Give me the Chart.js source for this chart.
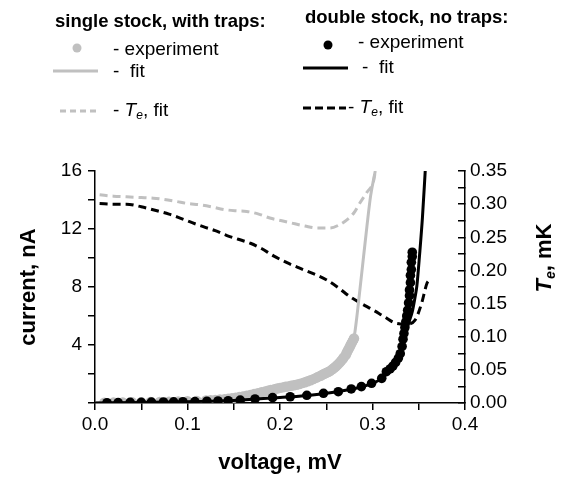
<!DOCTYPE html>
<html>
<head>
<meta charset="utf-8">
<script src="https://cdn.jsdelivr.net/npm/chart.js@4.4.0/dist/chart.umd.min.js"></script>
<style>
  body { margin: 0; background: #fff; }
  canvas { display: block; }
</style>
</head>
<body>
<canvas id="ivChart" width="567" height="478"></canvas>
<script>
// single stock, with traps - measured points
const grayExpV = [0.010, 0.020, 0.030, 0.040, 0.050, 0.060, 0.070, 0.080, 0.090, 0.100,
  0.110, 0.120, 0.125, 0.130, 0.135, 0.140, 0.144, 0.148, 0.152, 0.156, 0.160, 0.164,
  0.168, 0.172, 0.176, 0.180, 0.184, 0.187, 0.190, 0.194, 0.197, 0.200, 0.203, 0.206,
  0.209, 0.212, 0.215, 0.218, 0.221, 0.224, 0.227, 0.230, 0.233, 0.236, 0.239, 0.241,
  0.244, 0.246, 0.248, 0.250, 0.252, 0.254, 0.256, 0.258, 0.260, 0.262, 0.264, 0.266,
  0.268, 0.269, 0.271, 0.272, 0.273, 0.274, 0.275, 0.276, 0.277, 0.278, 0.279, 0.280];
const grayExpI = [0.02, 0.03, 0.04, 0.05, 0.06, 0.07, 0.08, 0.09, 0.10, 0.12,
  0.14, 0.17, 0.19, 0.21, 0.24, 0.27, 0.30, 0.33, 0.37, 0.41, 0.45, 0.50,
  0.56, 0.62, 0.68, 0.74, 0.80, 0.85, 0.90, 0.95, 1.00, 1.04, 1.08, 1.12,
  1.15, 1.19, 1.22, 1.26, 1.31, 1.37, 1.43, 1.50, 1.57, 1.65, 1.73, 1.80,
  1.88, 1.96, 2.02, 2.08, 2.14, 2.20, 2.30, 2.40, 2.50, 2.62, 2.75, 2.90,
  3.05, 3.15, 3.30, 3.45, 3.58, 3.70, 3.82, 3.95, 4.08, 4.20, 4.32, 4.45];

// single stock fit
const grayFitV = [0.000, 0.050, 0.100, 0.130, 0.156, 0.180, 0.200, 0.218, 0.236, 0.250,
  0.262, 0.270, 0.276, 0.280, 0.283, 0.286, 0.290, 0.294, 0.298, 0.303];
const grayFitI = [0.00, 0.05, 0.12, 0.21, 0.41, 0.74, 1.04, 1.26, 1.65, 2.08,
  2.62, 3.25, 3.95, 4.50, 5.90, 7.60, 9.90, 12.20, 14.30, 16.00];

// single stock Te fit (right axis)
const grayTeV = [0.005, 0.020, 0.034, 0.050, 0.063, 0.075, 0.088, 0.100, 0.114, 0.126,
  0.139, 0.152, 0.164, 0.177, 0.189, 0.202, 0.214, 0.227, 0.240, 0.254, 0.263, 0.272,
  0.280, 0.286, 0.294, 0.301, 0.303];
const grayTe = [0.314, 0.312, 0.311, 0.310, 0.309, 0.307, 0.304, 0.301, 0.299, 0.296,
  0.292, 0.290, 0.289, 0.285, 0.279, 0.275, 0.271, 0.267, 0.264, 0.264, 0.268, 0.276,
  0.287, 0.301, 0.318, 0.334, 0.349];

// double stock, no traps - measured points
const blackExpV = [0.013, 0.025, 0.038, 0.050, 0.061, 0.074, 0.085, 0.095, 0.108, 0.121,
  0.133, 0.144, 0.157, 0.173, 0.192, 0.211, 0.229, 0.247, 0.263, 0.277, 0.288, 0.299,
  0.310, 0.315, 0.319, 0.322, 0.325, 0.328, 0.330, 0.332, 0.333, 0.334, 0.335, 0.336,
  0.337, 0.338, 0.339, 0.340, 0.340, 0.341, 0.341, 0.342, 0.342, 0.343, 0.343];
const blackExpI = [0.02, 0.03, 0.04, 0.05, 0.06, 0.07, 0.08, 0.09, 0.10, 0.12,
  0.14, 0.16, 0.20, 0.28, 0.37, 0.43, 0.53, 0.67, 0.78, 0.97, 1.13, 1.36,
  1.70, 2.16, 2.35, 2.55, 2.80, 3.10, 3.40, 3.90, 4.40, 4.80, 5.20, 5.60,
  6.00, 6.40, 6.90, 7.40, 7.80, 8.30, 8.80, 9.20, 9.70, 10.10, 10.40];

// double stock fit
const blackFitV = [0.000, 0.050, 0.100, 0.150, 0.200, 0.230, 0.260, 0.280, 0.300, 0.310,
  0.320, 0.328, 0.334, 0.339, 0.343, 0.346, 0.348, 0.351, 0.354, 0.357];
const blackFitI = [0.00, 0.04, 0.09, 0.18, 0.38, 0.52, 0.76, 0.98, 1.35, 1.70,
  2.35, 3.10, 4.30, 5.50, 6.30, 7.30, 8.10, 10.30, 12.80, 16.00];

// double stock Te fit (right axis)
const blackTeV = [0.005, 0.020, 0.034, 0.050, 0.067, 0.080, 0.092, 0.105, 0.117, 0.130,
  0.142, 0.155, 0.168, 0.180, 0.193, 0.207, 0.222, 0.236, 0.250, 0.263, 0.276, 0.288,
  0.301, 0.313, 0.326, 0.337, 0.346, 0.353, 0.359, 0.362];
const blackTe = [0.301, 0.300, 0.300, 0.296, 0.290, 0.285, 0.279, 0.272, 0.266, 0.260,
  0.253, 0.247, 0.241, 0.233, 0.222, 0.212, 0.203, 0.195, 0.186, 0.174, 0.160, 0.150,
  0.140, 0.130, 0.120, 0.119, 0.125, 0.150, 0.181, 0.186];

const GRAY = '#c0c0c0';
const FONT = '"Liberation Sans", Arial, sans-serif';

const pts = (xs, ys) => xs.map((x, i) => ({ x: x, y: ys[i] }));

// header + legend + right title drawn on the canvas
const decorPlugin = {
  id: 'decor',
  afterDraw(chart) {
    const ctx = chart.ctx;
    ctx.save();
    ctx.fillStyle = '#000';
    ctx.textBaseline = 'middle';

    const run = (x, y, parts) => {
      parts.forEach(p => {
        ctx.font = p.f;
        ctx.fillText(p.t, x, y + (p.dy || 0));
        x += ctx.measureText(p.t).width;
      });
    };
    const bold = 'bold 18.5px ' + FONT;
    const norm = '19px ' + FONT;
    const ital = 'italic 19px ' + FONT;
    const sub = 'italic 12px ' + FONT;

    ctx.textAlign = 'left';
    run(55, 22, [{ t: 'single stock, with traps:', f: bold }]);
    run(305, 18, [{ t: 'double stock, no traps:', f: bold }]);

    // markers
    ctx.fillStyle = GRAY;
    ctx.beginPath(); ctx.arc(77, 48, 4.5, 0, Math.PI * 2); ctx.fill();
    ctx.fillStyle = '#000';
    ctx.beginPath(); ctx.arc(328, 45, 4.5, 0, Math.PI * 2); ctx.fill();

    ctx.lineWidth = 3;
    ctx.strokeStyle = GRAY;
    ctx.beginPath(); ctx.moveTo(53, 71); ctx.lineTo(98, 71); ctx.stroke();
    ctx.setLineDash([6, 4]);
    ctx.beginPath(); ctx.moveTo(60, 111); ctx.lineTo(98, 111); ctx.stroke();
    ctx.setLineDash([]);
    ctx.strokeStyle = '#000';
    ctx.beginPath(); ctx.moveTo(303, 68); ctx.lineTo(348, 68); ctx.stroke();
    ctx.setLineDash([8, 4]);
    ctx.beginPath(); ctx.moveTo(303, 108); ctx.lineTo(346, 108); ctx.stroke();
    ctx.setLineDash([]);

    run(113, 50, [{ t: '- experiment', f: norm }]);
    run(113, 72, [{ t: '-  fit', f: norm }]);
    run(113, 111, [{ t: '- ', f: norm }, { t: 'T', f: ital }, { t: 'e', f: sub, dy: 5 }, { t: ', fit', f: norm }]);
    run(358, 43, [{ t: '- experiment', f: norm }]);
    run(362, 68, [{ t: '-  fit', f: norm }]);
    run(348, 108, [{ t: '- ', f: norm }, { t: 'T', f: ital }, { t: 'e', f: sub, dy: 5 }, { t: ', fit', f: norm }]);

    // right axis title, rotated
    ctx.translate(545, 258);
    ctx.rotate(-Math.PI / 2);
    const tParts = [{ t: 'T', f: 'bold italic 22px ' + FONT }, { t: 'e', f: 'bold italic 14px ' + FONT, dy: 6 },
      { t: ', mK', f: 'bold 22px ' + FONT }];
    let w = 0;
    tParts.forEach(p => { ctx.font = p.f; w += ctx.measureText(p.t).width; });
    run(-w / 2, 0, tParts);
    ctx.restore();
  }
};

const ctx = document.getElementById('ivChart').getContext('2d');

new Chart(ctx, {
  type: 'scatter',
  data: {
    datasets: [
      {
        label: 'double stock fit',
        data: pts(blackFitV, blackFitI),
        yAxisID: 'y',
        showLine: true,
        borderColor: '#000',
        borderWidth: 3,
        pointRadius: 0,
        cubicInterpolationMode: 'monotone',
        order: 1
      },
      {
        label: 'double stock experiment',
        data: pts(blackExpV, blackExpI),
        yAxisID: 'y',
        backgroundColor: '#000',
        borderColor: '#000',
        pointRadius: 4.8,
        borderWidth: 0,
        order: 2
      },
      {
        label: 'single stock fit',
        data: pts(grayFitV, grayFitI),
        yAxisID: 'y',
        showLine: true,
        borderColor: GRAY,
        borderWidth: 3,
        pointRadius: 0,
        cubicInterpolationMode: 'monotone',
        order: 3
      },
      {
        label: 'single stock experiment',
        data: pts(grayExpV, grayExpI),
        yAxisID: 'y',
        backgroundColor: GRAY,
        borderColor: GRAY,
        pointRadius: 5.2,
        borderWidth: 0,
        order: 4
      },
      {
        label: 'double stock Te',
        data: pts(blackTeV, blackTe),
        yAxisID: 'y2',
        showLine: true,
        borderColor: '#000',
        borderWidth: 3,
        borderDash: [8, 5],
        pointRadius: 0,
        cubicInterpolationMode: 'monotone',
        order: 5
      },
      {
        label: 'single stock Te',
        data: pts(grayTeV, grayTe),
        yAxisID: 'y2',
        showLine: true,
        borderColor: GRAY,
        borderWidth: 3,
        borderDash: [8, 5],
        pointRadius: 0,
        cubicInterpolationMode: 'monotone',
        order: 6
      }
    ]
  },
  options: {
    responsive: false,
    animation: false,
    layout: { padding: { top: 171, left: 0, right: 0, bottom: 0 } },
    plugins: {
      legend: { display: false },
      tooltip: { enabled: false }
    },
    scales: {
      x: {
        type: 'linear',
        min: 0,
        max: 0.4,
        afterFit: s => { s.height = 75; },
        ticks: {
          stepSize: 0.05,
          color: '#000',
          padding: 3,
          maxRotation: 0,
          autoSkip: false,
          font: { family: FONT, size: 19 },
          callback: v => (Math.round(v * 1000) % 100 === 0 ? v.toFixed(1) : '')
        },
        grid: { drawOnChartArea: false, drawTicks: true, tickLength: 7, color: '#000', lineWidth: 1.5 },
        border: { display: true, color: '#000', width: 1.5 },
        title: {
          display: true,
          text: 'voltage, mV',
          color: '#000',
          font: { family: FONT, size: 22, weight: 'bold' },
          padding: { top: 0, bottom: 2 }
        }
      },
      y: {
        type: 'linear',
        position: 'left',
        min: 0,
        max: 16,
        afterFit: s => { s.width = 95; },
        ticks: {
          stepSize: 2,
          color: '#000',
          padding: 6,
          autoSkip: false,
          font: { family: FONT, size: 19 },
          callback: v => (v % 4 === 0 && v !== 0 ? String(v) : '')
        },
        grid: { drawOnChartArea: false, drawTicks: true, tickLength: 7, color: '#000', lineWidth: 1.5 },
        border: { display: true, color: '#000', width: 1.5 },
        title: {
          display: true,
          text: 'current, nA',
          color: '#000',
          font: { family: FONT, size: 22, weight: 'bold' },
          padding: { top: 16, bottom: 0 }
        }
      },
      y2: {
        type: 'linear',
        position: 'right',
        min: 0,
        max: 0.35,
        afterFit: s => { s.width = 102; },
        ticks: {
          stepSize: 0.025,
          color: '#000',
          padding: 12,
          autoSkip: false,
          font: { family: FONT, size: 19 },
          callback: v => (Math.round(v * 1000) % 50 === 0 ? v.toFixed(2) : '')
        },
        grid: { drawOnChartArea: false, drawTicks: true, tickLength: -7, color: '#000', lineWidth: 1.5 },
        border: { display: true, color: '#000', width: 1.5 }
      }
    }
  },
  plugins: [decorPlugin]
});
</script>
</body>
</html>
